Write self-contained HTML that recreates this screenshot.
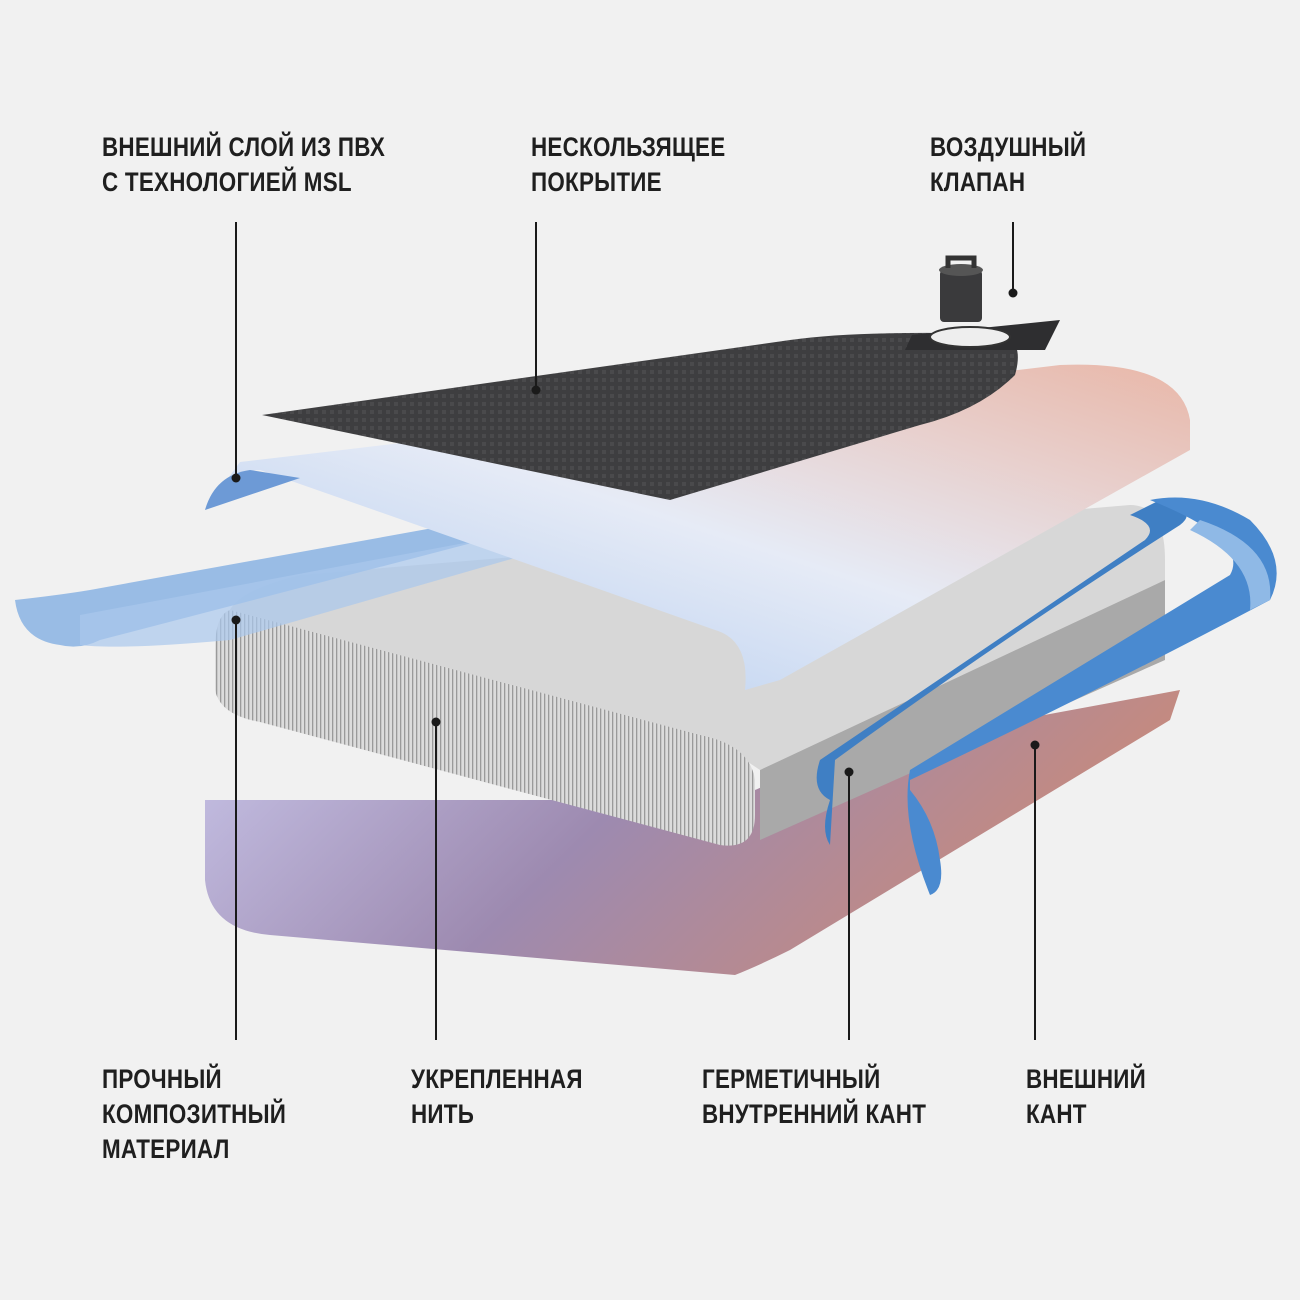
<!DOCTYPE html>
<html><head><meta charset="utf-8"><style>
html,body{margin:0;padding:0;background:#f1f1f1;}
.w{position:relative;width:1300px;height:1300px;overflow:hidden;background:#f1f1f1;}
.t{position:absolute;font-family:"Liberation Sans",sans-serif;font-weight:bold;font-size:27px;line-height:35px;color:#1f1f1f;letter-spacing:0.3px;transform:scaleX(0.83);transform-origin:0 0;white-space:nowrap;}
svg{position:absolute;left:0;top:0;}
</style></head><body><div class="w">
<svg width="1300" height="1300" viewBox="0 0 1300 1300">
<defs>
<linearGradient id="bot" x1="0" y1="0" x2="1" y2="0.3">
<stop offset="0" stop-color="#c9c6ea"/><stop offset="0.5" stop-color="#9d8ab0"/><stop offset="1" stop-color="#c98a7a"/></linearGradient>
<linearGradient id="top" x1="0" y1="1" x2="1" y2="0">
<stop offset="0" stop-color="#a9c6ee"/><stop offset="0.5" stop-color="#e6ebf6"/><stop offset="1" stop-color="#e9b7a8"/></linearGradient>
<pattern id="str" width="4" height="10" patternUnits="userSpaceOnUse"><rect width="4" height="10" fill="#dcdcdc"/><rect width="1.3" height="10" fill="#9a9a9a"/></pattern>
<pattern id="dots" width="8" height="8" patternUnits="userSpaceOnUse"><rect width="8" height="8" fill="#3e3e40"/><rect x="2" y="2" width="4" height="4" fill="#4a4a4c"/></pattern>
</defs>
<path d="M205,800 L205,880 Q210,930 270,935 L735,975 Q760,965 790,950 L1170,720 L1180,690 L800,760 Q760,800 700,800 Z" fill="url(#bot)"/>
<path d="M230,610 Q240,590 300,575 L1130,505 Q1165,505 1165,560 L1165,580 L760,770 L745,760 Q700,740 230,610 Z" fill="#d7d7d7"/>
<path d="M760,770 L1165,580 L1165,660 L760,840 Z" fill="#a9a9a9"/>
<path d="M230,610 Q215,615 215,650 L215,690 Q220,715 260,722 L720,845 Q755,850 755,815 L755,780 Q750,745 700,735 Z" fill="url(#str)"/>
<path d="M15,600 Q20,640 60,645 Q80,650 100,640 L560,520 L560,505 L90,590 Q60,595 15,600 Z" fill="#8ab3e3" opacity="0.85"/>
<path d="M80,615 L80,645 Q120,650 230,640 L560,545 L560,525 Z" fill="#a9c7ec" opacity="0.7"/>
<path d="M205,510 L240,462 L300,455 L1060,365 Q1180,360 1190,420 L1190,450 L780,680 L745,690 Q750,640 715,630 Q460,540 260,470 Q230,470 205,510 Z" fill="url(#top)"/>
<path d="M205,510 Q215,475 250,470 L300,478 Z" fill="#6d9ad6"/>
<path d="M262,415 L790,340 Q860,330 1000,334 Q1025,340 1015,375 Q980,410 920,425 L670,500 Z" fill="url(#dots)"/>
<path d="M912,335 L1060,320 L1045,350 L905,350 Z" fill="#2e2e30"/>
<ellipse cx="970" cy="337" rx="40" ry="10" fill="#eee" stroke="#333" stroke-width="2"/>
<rect x="940" y="270" width="42" height="52" rx="4" fill="#3a3a3c"/>
<ellipse cx="961" cy="270" rx="22" ry="6" fill="#555"/>
<path d="M948,268 L948,258 L974,258 L974,268" fill="none" stroke="#333" stroke-width="5"/>
<path d="M835,760 Q1000,640 1180,525 Q1200,510 1160,500 L1130,515 Q1160,525 1145,540 L820,760 Q810,790 830,800 Q820,830 830,845 Z" fill="#3f7fc4"/>
<path d="M910,780 Q1100,690 1270,600 Q1290,560 1250,520 Q1200,490 1150,500 Q1250,540 1230,575 L910,770 Q900,820 930,895 Q945,890 940,860 Q935,820 910,790 Z" fill="#4a8ad0"/>
<path d="M1200,520 Q1275,545 1270,600 L1250,610 Q1255,560 1190,530 Z" fill="#8fb9e6"/>
<g stroke="#1a1a1a" stroke-width="2">
<line x1="236" y1="222" x2="236" y2="478"/><line x1="536" y1="222" x2="536" y2="390"/><line x1="1013" y1="222" x2="1013" y2="293"/>
<line x1="236" y1="620" x2="236" y2="1040"/><line x1="436" y1="722" x2="436" y2="1040"/><line x1="849" y1="772" x2="849" y2="1040"/><line x1="1035" y1="745" x2="1035" y2="1040"/>
</g>
<g fill="#1a1a1a">
<circle cx="236" cy="478" r="4.5"/><circle cx="536" cy="390" r="4.5"/><circle cx="1013" cy="293" r="4.5"/>
<circle cx="236" cy="620" r="4.5"/><circle cx="436" cy="722" r="4.5"/><circle cx="849" cy="772" r="4.5"/><circle cx="1035" cy="745" r="4.5"/>
</g>
</svg>
<div class="t" style="left:102px;top:130px">ВНЕШНИЙ СЛОЙ ИЗ ПВХ<br>С ТЕХНОЛОГИЕЙ MSL</div>
<div class="t" style="left:531px;top:130px">НЕСКОЛЬЗЯЩЕЕ<br>ПОКРЫТИЕ</div>
<div class="t" style="left:930px;top:130px">ВОЗДУШНЫЙ<br>КЛАПАН</div>
<div class="t" style="left:102px;top:1062px">ПРОЧНЫЙ<br>КОМПОЗИТНЫЙ<br>МАТЕРИАЛ</div>
<div class="t" style="left:411px;top:1062px">УКРЕПЛЕННАЯ<br>НИТЬ</div>
<div class="t" style="left:702px;top:1062px">ГЕРМЕТИЧНЫЙ<br>ВНУТРЕННИЙ КАНТ</div>
<div class="t" style="left:1026px;top:1062px">ВНЕШНИЙ<br>КАНТ</div>
</div></body></html>
